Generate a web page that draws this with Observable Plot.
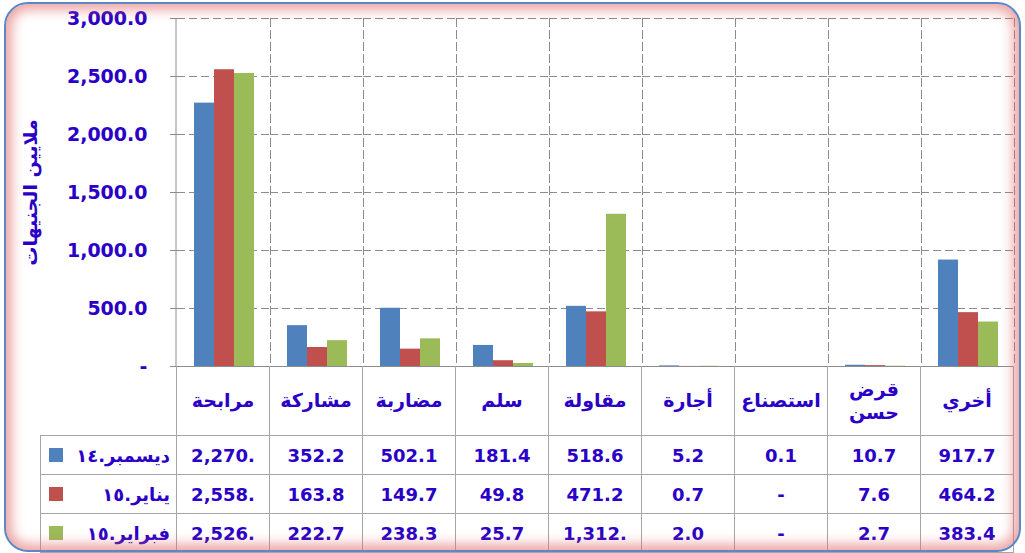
<!DOCTYPE html>
<html><head><meta charset="utf-8">
<script src="https://cdn.jsdelivr.net/npm/d3@7"></script>
<script src="https://cdn.jsdelivr.net/npm/@observablehq/plot@0.6"></script>
<style>
body{margin:0;background:#fff;}
#wrap{position:relative;width:1025px;height:553px;overflow:hidden;background:#fff;font-family:"DejaVu Sans",sans-serif;}
#frame{position:absolute;left:4px;top:2px;width:1013px;height:546px;border:2px solid #5b87c5;border-radius:24px;box-shadow:inset 0 0 12px 6px rgba(225,105,105,0.6);pointer-events:none;}
#chart{position:absolute;left:0;top:0;}
#chart svg text{font-family:"DejaVu Sans",sans-serif;font-weight:bold;}
#chart g[aria-label="y-axis label"] text{font-size:19px;}
table{position:absolute;border-collapse:collapse;table-layout:fixed;color:#2b00c6;font-weight:bold;font-family:"DejaVu Sans",sans-serif;}
td{border:1px solid #a6a6a6;text-align:center;padding:0;overflow:hidden;white-space:nowrap;}
tr.head td{height:69px;font-size:19px;white-space:pre-line;line-height:1.2;direction:rtl;border-top:none;}
tr.head td.corner{border-left:none;border-top:none;}
tr.row td{height:38px;font-size:18px;}
td.leg{padding:0 6px 0 8px;}
td.leg div{display:flex;align-items:center;justify-content:space-between;}
td.leg .sw{width:14px;height:14px;display:inline-block;}
td.leg .t{direction:rtl;font-size:18px;}
</style>
</head><body>
<div id="wrap"><div id="chart"></div><div id="frame"></div></div>
<script>
const categories = ["مرابحة","مشاركة","مضاربة","سلم","مقاولة","أجارة","استصناع","قرض\nحسن","أخري"];
const seriesNames = ["ديسمبر.١٤","يناير.١٥","فبراير.١٥"];
const dec14 = [2270.4, 352.2, 502.1, 181.4, 518.6, 5.2, 0.1, 10.7, 917.7];
const jan15 = [2558.3, 163.8, 149.7, 49.8, 471.2, 0.7, 0, 7.6, 464.2];
const feb15 = [2526.1, 222.7, 238.3, 25.7, 1312.3, 2.0, 0, 2.7, 383.4];
const dec14Labels = ["2,270.","352.2","502.1","181.4","518.6","5.2","0.1","10.7","917.7"];
const jan15Labels = ["2,558.","163.8","149.7","49.8","471.2","0.7","-","7.6","464.2"];
const feb15Labels = ["2,526.","222.7","238.3","25.7","1,312.","2.0","-","2.7","383.4"];
const colors = ["#4f81bd","#c0504d","#9bbb59"];
const yTicks = [0,500,1000,1500,2000,2500,3000];
const yTitle = "ملايين الجنيهات";
const textColor = "#2b00c6";
const gridColor = "#8c8c8c";

const seriesValues = [dec14, jan15, feb15];
const seriesLabels = [dec14Labels, jan15Labels, feb15Labels];
const data = categories.flatMap((c, i) => seriesNames.map((s, j) => ({cat: c, series: s, value: seriesValues[j][i]})));
const fmt = d3.format(",.1f");

const plot = Plot.plot({
  width: 1025, height: 553,
  marginLeft: 176, marginRight: 11, marginTop: 18, marginBottom: 187,
  style: {background: "transparent", fontFamily: "DejaVu Sans"},
  fx: {domain: categories, padding: 0, axis: null},
  x: {domain: seriesNames, paddingInner: 0, paddingOuter: 0.75, axis: null},
  y: {domain: [0, 3000], axis: null},
  color: {domain: seriesNames, range: colors},
  marks: [
    Plot.gridY(yTicks, {stroke: gridColor, strokeOpacity: 1, strokeDasharray: "8,4"}),
    Plot.frame({anchor: "right", stroke: gridColor, strokeDasharray: "8,4"}),
    Plot.barY(data, {fx: "cat", x: "series", y: "value", fill: "series"}),
    Plot.ruleY([0], {stroke: gridColor}),
    Plot.axisY(yTicks, {
      facetAnchor: "left", tickSize: 7, tickPadding: 23, fontSize: 19,
      stroke: gridColor, fill: textColor,
      tickFormat: d => d === 0 ? "-" : fmt(d),
      label: yTitle, labelAnchor: "center", labelOffset: 154, labelArrow: false
    })
  ]
});
document.getElementById("chart").appendChild(plot);

// solid left axis line, placed with the plot's own scales
const fxS = plot.scale("fx"), yS = plot.scale("y");
const x0 = fxS.range[0];
d3.select(plot).append("line")
  .attr("x1", x0).attr("x2", x0)
  .attr("y1", yS.apply(3000)).attr("y2", yS.apply(0))
  .attr("stroke", gridColor);

// data table under the chart, columns taken from the fx scale
const step = fxS.step;
const tableLeft = 40;
const table = d3.select("#wrap").insert("table", "#frame")
  .style("left", tableLeft + "px")
  .style("top", yS.apply(0) + "px")
  .style("width", (fxS.range[1] - tableLeft) + "px");
const cg = table.append("colgroup");
cg.append("col").style("width", (x0 - tableLeft) + "px");
categories.forEach(() => cg.append("col").style("width", step + "px"));
const head = table.append("tr").attr("class", "head");
head.append("td").attr("class", "corner");
categories.forEach(c => head.append("td").text(c));
seriesNames.forEach((s, j) => {
  const tr = table.append("tr").attr("class", "row");
  const leg = tr.append("td").attr("class", "leg").append("div");
  leg.append("span").attr("class", "sw").style("background", colors[j]);
  leg.append("span").attr("class", "t").text(s);
  seriesLabels[j].forEach(v => tr.append("td").text(v));
});
</script>
</body></html>
